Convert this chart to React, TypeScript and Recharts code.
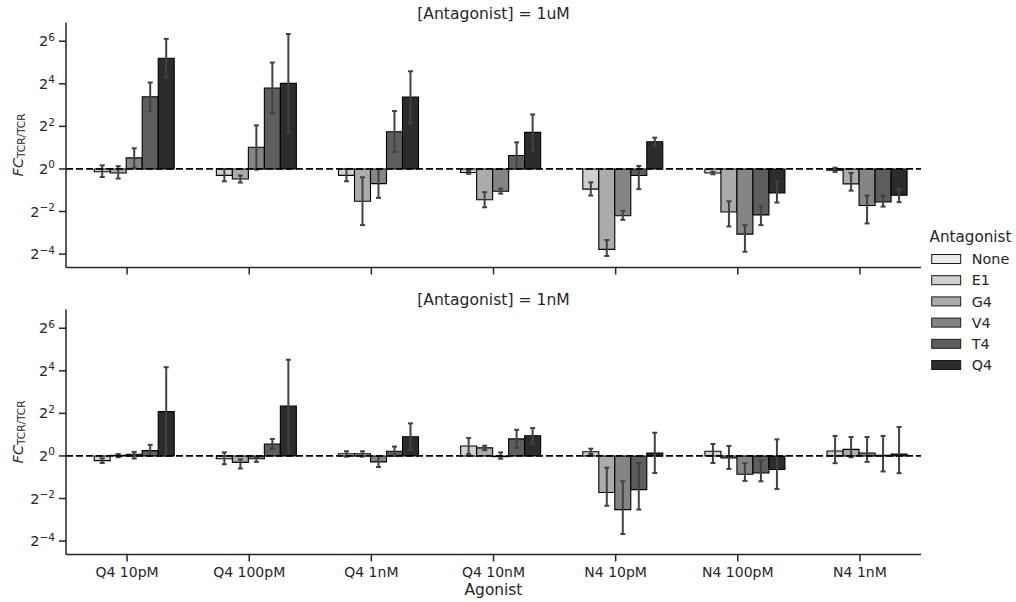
import React from 'react';
import { BarChart, Bar, XAxis, YAxis, ReferenceLine, ErrorBar } from 'recharts';

const FONT = '"DejaVu Sans", sans-serif';
const INK = '#262626';
const ERR_COLOR = '#424242';

const AGONISTS = ['Q4 10pM', 'Q4 100pM', 'Q4 1nM', 'Q4 10nM', 'N4 10pM', 'N4 100pM', 'N4 1nM'];
const ANTAGONISTS = ['None', 'E1', 'G4', 'V4', 'T4', 'Q4'];
const COLORS = ['#ebebeb', '#d0d0d0', '#ababab', '#858585', '#5e5e5e', '#2c2c2c'];
const Y_TICKS = [-4, -2, 0, 2, 4, 6];
const Y_DOMAIN = [-4.63, 6.88];

// values are log2(FC), one row per antagonist, one column per agonist
// [Antagonist] = 1uM
const UM_MEAN = [
  [0, 0, 0, 0, 0, 0, 0],
  [-0.13, -0.3, -0.3, -0.17, -0.95, -0.19, -0.06],
  [-0.19, -0.47, -1.52, -1.45, -3.78, -2.02, -0.7],
  [0.52, 1.02, -0.69, -1.05, -2.2, -3.06, -1.72],
  [3.39, 3.8, 1.75, 0.63, -0.31, -2.16, -1.55],
  [5.2, 4.02, 3.38, 1.72, 1.28, -1.13, -1.23],
];
const UM_LO = [
  null,
  [-0.38, -0.58, -0.58, -0.23, -1.25, -0.25, -0.14],
  [-0.45, -0.64, -2.64, -1.8, -4.09, -2.7, -1.02],
  [0.05, -0.03, -1.36, -1.16, -2.39, -3.89, -2.56],
  [2.7, 2.63, 0.8, 0.0, -0.95, -2.64, -1.77],
  [4.3, 1.72, 2.14, 0.86, 1.09, -1.58, -1.56],
];
const UM_HI = [
  null,
  [0.17, 0.0, 0.0, -0.09, -0.63, -0.13, 0.06],
  [0.13, -0.31, -0.39, -1.09, -3.34, -1.52, -0.19],
  [0.97, 2.05, 0.0, -0.92, -1.97, -2.64, -1.25],
  [4.06, 5.0, 2.72, 1.25, 0.14, -1.75, -1.25],
  [6.11, 6.34, 4.59, 2.56, 1.47, -0.58, -0.94],
];

// [Antagonist] = 1nM
const NM_MEAN = [
  [0, 0, 0, 0, 0, 0, 0],
  [-0.22, -0.13, 0.1, 0.47, 0.2, 0.22, 0.23],
  [0.03, -0.3, 0.1, 0.38, -1.72, -0.09, 0.31],
  [0.08, -0.13, -0.28, -0.03, -2.52, -0.86, 0.14],
  [0.25, 0.56, 0.22, 0.8, -1.58, -0.8, 0.03],
  [2.08, 2.34, 0.9, 0.95, 0.14, -0.64, 0.09],
];
const NM_LO = [
  null,
  [-0.33, -0.39, -0.03, 0.09, 0.09, -0.33, -0.34],
  [-0.06, -0.59, -0.03, 0.27, -2.34, -0.61, -0.06],
  [-0.12, -0.28, -0.52, -0.13, -3.67, -1.17, -0.28],
  [0.0, 0.33, 0.0, 0.38, -2.52, -1.19, -0.73],
  [0.0, 0.16, 0.27, 0.58, -0.8, -1.55, -0.81],
];
const NM_HI = [
  null,
  [-0.11, 0.17, 0.22, 0.84, 0.34, 0.56, 0.94],
  [0.09, -0.16, 0.22, 0.48, -0.55, 0.47, 0.89],
  [0.19, -0.05, 0.0, 0.17, -1.19, -0.34, 0.89],
  [0.52, 0.8, 0.44, 1.23, -0.33, -0.23, 0.94],
  [4.17, 4.52, 1.53, 1.31, 1.09, 0.78, 1.36],
];

function buildRows(mean, lo, hi) {
  return AGONISTS.map((agonist, i) => {
    const row: any = { agonist };
    ANTAGONISTS.forEach((k, j) => {
      const v = mean[j][i];
      row[k] = v;
      row[k + '_err'] = lo[j] ? [v - lo[j][i], hi[j][i] - v] : null;
    });
    return row;
  });
}

const UM_ROWS = buildRows(UM_MEAN, UM_LO, UM_HI);
const NM_ROWS = buildRows(NM_MEAN, NM_LO, NM_HI);

function YTick({ x, y, payload }: any) {
  const v = payload.value;
  const exp = v < 0 ? `\u2212${-v}` : `${v}`;
  return (
    <text x={x} y={y} dy={5} textAnchor="end" fontFamily={FONT} fontSize={14.5} fill={INK}>
      <tspan>2</tspan>
      <tspan dy={-5.5} fontSize={10.5}>{exp}</tspan>
    </text>
  );
}

function XTick({ x, y, payload }: any) {
  return (
    <text x={x} y={y} dy={13.5} textAnchor="middle" fontFamily={FONT} fontSize={14} fill={INK}>
      {payload.value}
    </text>
  );
}

const EmptyTick = () => <g />;

function YLabel({ viewBox }: any) {
  const cy = viewBox.y + viewBox.height / 2;
  const bx = 22.7;
  return (
    <text
      x={bx}
      y={cy}
      transform={`rotate(-90, ${bx}, ${cy})`}
      textAnchor="middle"
      fontFamily={FONT}
      fill={INK}
    >
      <tspan fontStyle="italic" fontSize={14.5}>FC</tspan>
      <tspan fontSize={10.5} dy={2}>TCR/TCR</tspan>
    </text>
  );
}

function XLabel({ viewBox }: any) {
  const cx = viewBox.x + viewBox.width / 2;
  return (
    <text x={cx} y={304.5} textAnchor="middle" fontFamily={FONT} fontSize={15.4} fill={INK}>
      Agonist
    </text>
  );
}

function Panel({ rows, height, marginTop, xHeight, bottom }: any) {
  return (
    <BarChart
      width={1016}
      height={height}
      data={rows}
      margin={{ top: marginTop, right: 95, bottom: 0, left: 0 }}
      barCategoryGap="10%"
      barGap={0}
    >
      <XAxis
        dataKey="agonist"
        height={xHeight}
        interval={0}
        tickSize={7}
        axisLine={{ stroke: INK, strokeWidth: 1.5 }}
        tickLine={{ stroke: INK, strokeWidth: 1.5 }}
        tick={bottom ? <XTick /> : <EmptyTick />}
        label={bottom ? { content: (p: any) => <XLabel {...p} /> } : undefined}
      />
      <YAxis
        type="number"
        domain={Y_DOMAIN}
        ticks={Y_TICKS}
        allowDataOverflow
        width={66}
        tickSize={7}
        tickMargin={4}
        axisLine={{ stroke: INK, strokeWidth: 1.5 }}
        tickLine={{ stroke: INK, strokeWidth: 1.5 }}
        tick={<YTick />}
        label={{ content: (p: any) => <YLabel {...p} /> }}
      />
      {ANTAGONISTS.map((k, j) => (
        <Bar key={k} dataKey={k} fill={COLORS[j]} stroke="#000" strokeWidth={1.1} isAnimationActive={false}>
          <ErrorBar dataKey={k + '_err'} direction="y" width={2.5} strokeWidth={2} stroke={ERR_COLOR} />
        </Bar>
      ))}
      <ReferenceLine y={0} stroke="#000" strokeWidth={1.8} strokeDasharray="7 3" />
    </BarChart>
  );
}

export default function App() {
  const legendRowY = [259, 280.2, 301.4, 322.6, 343.8, 365];
  return (
    <div style={{ position: 'absolute', left: 0, top: 0, width: 1016, height: 602, background: '#fff' }}>
      <div style={{ position: 'absolute', left: 0, top: 0 }}>
        <Panel rows={UM_ROWS} height={290} marginTop={22.5} xHeight={22.5} bottom={false} />
      </div>
      <div style={{ position: 'absolute', left: 0, top: 290 }}>
        <Panel rows={NM_ROWS} height={312} marginTop={19.5} xHeight={47.5} bottom />
      </div>
      <svg
        width={1016}
        height={602}
        style={{ position: 'absolute', left: 0, top: 0, pointerEvents: 'none' }}
        fontFamily={FONT}
      >
        <text x={493.5} y={18.5} textAnchor="middle" fontSize={15.6} fill={INK}>[Antagonist] = 1uM</text>
        <text x={493.5} y={305} textAnchor="middle" fontSize={15.6} fill={INK}>[Antagonist] = 1nM</text>
        <text x={929.5} y={242} fontSize={15.2} fill={INK}>Antagonist</text>
        {ANTAGONISTS.map((k, j) => (
          <g key={k}>
            <rect x={931.7} y={legendRowY[j] - 4.5} width={29} height={9} fill={COLORS[j]} stroke="#1a1a1a" strokeWidth={1} />
            <text x={971.7} y={legendRowY[j] + 5.2} fontSize={14.4} fill={INK}>{k}</text>
          </g>
        ))}
      </svg>
    </div>
  );
}
